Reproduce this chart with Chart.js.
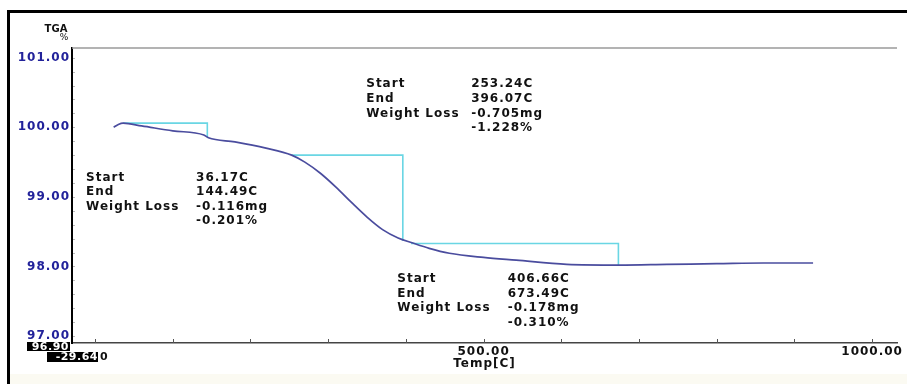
<!DOCTYPE html>
<html>
<head>
<meta charset="utf-8">
<script src="https://cdn.jsdelivr.net/npm/chart.js@4.4.0/dist/chart.umd.min.js"></script>
<style>
  body { margin: 0; background: #fff; }
  canvas { display: block; }
</style>
</head>
<body>
<canvas id="tga" width="907" height="384"></canvas>
<script>
// TGA curve (temperature C, weight %)
const temps = [24, 30, 36, 60, 100, 140, 146, 180, 220, 253, 270, 290, 310, 330, 350, 370, 390, 408, 430, 456, 500, 542, 607, 675, 736, 800, 860, 924];
const tgaPct = [100.00, 100.04, 100.06, 100.02, 99.95, 99.89, 99.85, 99.79, 99.70, 99.60, 99.50, 99.34, 99.14, 98.92, 98.71, 98.53, 98.41, 98.34, 98.26, 98.19, 98.13, 98.09, 98.03, 98.02, 98.03, 98.04, 98.05, 98.05];

// weight loss steps
const stepStart = [36.17, 253.24, 406.66];
const stepEnd = [144.49, 396.07, 673.49];
const stepUpper = [100.06, 99.60, 98.33];
const stepLower = [99.86, 98.37, 98.02];
const lossMg = ['-0.116mg', '-0.705mg', '-0.178mg'];
const lossPct = ['-0.201%', '-1.228%', '-0.310%'];

const xTicks = [0, 100, 200, 300, 400, 500, 600, 700, 800, 900, 1000];
const xLabelTicks = [500, 1000];
const yTicks = [97, 98, 99, 100, 101];
const xMin = -29.64, xMax = 1032;
const yMin = 96.90, yMax = 101.14;

const FONT = 'DejaVu Sans';
const BLUE = '#22229a';

const curve = temps.map((t, i) => ({ x: t, y: tgaPct[i] }));
const stepSets = stepStart.map((s, i) => ({
  data: [
    { x: s, y: stepUpper[i] },
    { x: stepEnd[i], y: stepUpper[i] },
    { x: stepEnd[i], y: stepLower[i] }
  ],
  borderColor: '#6ad6e4',
  borderWidth: 1.6,
  pointRadius: 0,
  tension: 0,
  showLine: true
}));

// text blocks, anchored in data units (label column x, value column x, first row y)
const notePos = [
  { lx: -11.5, vx: 130, y: 99.28 },
  { lx: 349, vx: 484, y: 100.62 },
  { lx: 389, vx: 531, y: 97.82 }
];

const frame = {
  id: 'frame',
  beforeDraw(chart) {
    const c = chart.ctx;
    c.save();
    c.fillStyle = '#fff';
    c.fillRect(0, 0, chart.width, chart.height);
    c.fillStyle = '#fbfaf2';
    c.fillRect(10, 374, chart.width - 10, 10);
    c.strokeStyle = '#000';
    c.lineWidth = 3;
    c.beginPath();
    c.moveTo(8.5, chart.height);
    c.lineTo(8.5, 11.5);
    c.lineTo(chart.width, 11.5);
    c.stroke();
    c.restore();
    chart.ctx.letterSpacing = '1px';
  },
  afterDraw(chart) {
    const c = chart.ctx;
    const xs = chart.scales.x, ys = chart.scales.y;
    const a = chart.chartArea;
    c.save();
    c.letterSpacing = '1px';
    // top border
    c.strokeStyle = '#9a9a9a';
    c.lineWidth = 1.5;
    c.beginPath();
    c.moveTo(a.left, a.top);
    c.lineTo(a.right, a.top);
    c.stroke();
    // inward ticks
    c.strokeStyle = '#555';
    c.lineWidth = 1;
    xTicks.forEach(v => {
      const px = Math.round(xs.getPixelForValue(v)) + 0.5;
      c.beginPath();
      c.moveTo(px, a.bottom);
      c.lineTo(px, a.bottom - 4);
      c.stroke();
    });
    c.strokeStyle = '#bbb';
    for (let v = 97; v <= 101.001; v += 0.2) {
      const py = Math.round(ys.getPixelForValue(v)) + 0.5;
      c.beginPath();
      c.moveTo(a.left + 1, py);
      c.lineTo(a.left + 3, py);
      c.stroke();
    }
    // step notes
    c.fillStyle = '#111';
    c.font = 'bold 12px ' + FONT;
    c.textBaseline = 'middle';
    c.textAlign = 'left';
    notePos.forEach((p, i) => {
      const lx = xs.getPixelForValue(p.lx);
      const vx = xs.getPixelForValue(p.vx);
      const y0 = ys.getPixelForValue(p.y);
      const rows = [
        ['Start', stepStart[i].toFixed(2) + 'C'],
        ['End', stepEnd[i].toFixed(2) + 'C'],
        ['Weight Loss', lossMg[i]],
        ['', lossPct[i]]
      ];
      rows.forEach((r, k) => {
        const y = y0 + k * 14.6;
        c.fillText(r[0], lx, y);
        c.fillText(r[1], vx, y);
      });
    });
    // axis caption
    c.textAlign = 'center';
    c.font = 'bold 10px ' + FONT;
    c.letterSpacing = '0px';
    c.fillText('TGA', 56, 29);
    c.font = '9px ' + FONT;
    c.fillText('%', 64, 38);
    // range readouts
    c.letterSpacing = '0.5px';
    c.font = 'bold 11px ' + FONT;
    c.fillStyle = '#000';
    c.fillRect(27, 342, 43, 9);
    c.fillRect(47, 352, 51, 10);
    c.fillStyle = '#fff';
    c.textAlign = 'right';
    c.fillText(yMin.toFixed(2), 69, 347);
    c.fillText(xMin.toFixed(2), 98, 357.5);
    c.fillStyle = '#111';
    c.textAlign = 'left';
    c.fillText('0', 100, 357.5);
    c.restore();
  }
};

new Chart(document.getElementById('tga'), {
  type: 'scatter',
  data: {
    datasets: [
      {
        data: curve,
        borderColor: '#4a4c9e',
        borderWidth: 1.7,
        pointRadius: 0,
        showLine: true,
        cubicInterpolationMode: 'monotone'
      },
      ...stepSets
    ]
  },
  options: {
    responsive: false,
    animation: false,
    layout: { padding: { left: 8, top: 48, right: 10, bottom: 14 } },
    scales: {
      x: {
        type: 'linear',
        min: xMin,
        max: xMax,
        afterBuildTicks: s => { s.ticks = xTicks.map(v => ({ value: v })); },
        afterFit: s => { s.height = 27; },
        grid: { display: false, drawTicks: false },
        border: { color: '#444', width: 1.5 },
        ticks: {
          padding: 2,
          maxRotation: 0,
          autoSkip: false,
          color: '#111',
          font: { family: FONT, size: 12, weight: 'bold' },
          callback: v => xLabelTicks.includes(v) ? v.toFixed(2) : ''
        },
        title: {
          display: true,
          text: 'Temp[C]',
          color: '#111',
          padding: { top: 0, bottom: 0 },
          font: { family: FONT, size: 12, weight: 'bold', lineHeight: 1 }
        }
      },
      y: {
        min: yMin,
        max: yMax,
        afterBuildTicks: s => { s.ticks = yTicks.map(v => ({ value: v })); },
        afterFit: s => { s.width = 64; },
        grid: { display: false, drawTicks: false },
        border: { color: '#000', width: 2 },
        ticks: {
          padding: 2,
          color: BLUE,
          font: { family: FONT, size: 12, weight: 'bold' },
          callback: v => v.toFixed(2)
        }
      }
    },
    plugins: {
      legend: { display: false },
      tooltip: { enabled: false }
    }
  },
  plugins: [frame]
});
</script>
</body>
</html>
